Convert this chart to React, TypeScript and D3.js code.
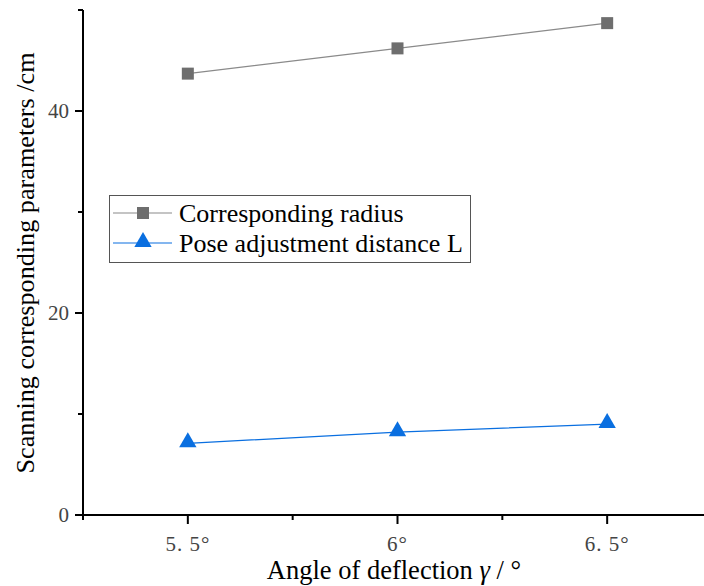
import React from "react";
import * as d3 from "d3";

const xValues = [5.5, 6, 6.5];
const radiusValues = [43.7, 46.2, 48.7];
const distanceValues = [7.1, 8.2, 9.0];
const xTickValues = [5.5, 6, 6.5];
const xTickLabels = ["5. 5°", "6°", "6. 5°"];
const xMinorTicks = [5.25, 5.75, 6.25, 6.75];
const yTickValues = [0, 20, 40];
const yMinorTicks = [10, 30, 50];
const seriesNames = ["Corresponding radius", "Pose adjustment distance L"];

const W = 704, H = 586;
const left = 83, top = 10, bottom = 515;

export default function App() {
  const x = d3.scaleLinear().domain([5.25, 6.75]).range([left, left + 629]);
  const y = d3.scaleLinear().domain([0, 50]).range([bottom, top]);
  const line = d3.line<number>().x((_, i) => x(xValues[i])).y((d) => y(d));
  const grey = "#6e6e6e";
  const greyLine = "#8a8a8a";
  const blue = "#0a6fe0";
  const serif = "'Liberation Serif', 'Times New Roman', serif";
  const tri = d3.symbol().type(d3.symbolTriangle).size(130)() as string;

  return (
    <svg width={W} height={H} style={{ position: "absolute", left: 0, top: 0, background: "#fff" }}>
      {/* axes */}
      <line x1={left} y1={top} x2={left} y2={bottom} stroke="#000" strokeWidth={2} />
      <line x1={left - 1} y1={bottom} x2={W} y2={bottom} stroke="#000" strokeWidth={2} />
      {yTickValues.map((v) => (
        <g key={"yt" + v}>
          <line x1={left - 8} x2={left} y1={y(v)} y2={y(v)} stroke="#000" strokeWidth={2} />
          <text x={left - 14} y={y(v)} dy="0.35em" textAnchor="end" fontFamily={serif} fontSize={21} fill="#444">{v}</text>
        </g>
      ))}
      {yMinorTicks.map((v) => (
        <line key={"ym" + v} x1={left - 5} x2={left} y1={y(v)} y2={y(v)} stroke="#000" strokeWidth={2} />
      ))}
      {xTickValues.map((v, i) => (
        <g key={"xt" + v}>
          <line x1={x(v)} x2={x(v)} y1={bottom} y2={bottom + 9} stroke="#000" strokeWidth={2} />
          <text x={x(v)} y={bottom + 36} textAnchor="middle" fontFamily={serif} fontSize={21} letterSpacing={1} fill="#444">{xTickLabels[i]}</text>
        </g>
      ))}
      {xMinorTicks.map((v) => (
        <line key={"xm" + v} x1={x(v)} x2={x(v)} y1={bottom} y2={bottom + 5} stroke="#000" strokeWidth={2} />
      ))}
      <text x={394} y={579} textAnchor="middle" fontFamily={serif} fontSize={26.5} fill="#000">
        Angle of deflection <tspan fontStyle="italic">γ</tspan> / °
      </text>
      <text transform={`translate(34,263) rotate(-90)`} textAnchor="middle" fontFamily={serif} fontSize={26.2} fill="#000">
        Scanning corresponding parameters /cm
      </text>

      {/* series */}
      <path d={line(radiusValues) as string} fill="none" stroke={greyLine} strokeWidth={1.2} />
      {radiusValues.map((v, i) => (
        <rect key={"r" + i} x={x(xValues[i]) - 6} y={y(v) - 6} width={12} height={12} fill={grey} />
      ))}
      <path d={line(distanceValues) as string} fill="none" stroke={blue} strokeWidth={1.2} />
      {distanceValues.map((v, i) => (
        <path key={"d" + i} d={tri} transform={`translate(${x(xValues[i])},${y(v) - 1})`} fill={blue} />
      ))}

      {/* legend */}
      <rect x={109.5} y={195.5} width={361} height={67} fill="#fff" stroke="#555" strokeWidth={1} />
      <line x1={113} x2={172} y1={213} y2={213} stroke={greyLine} strokeWidth={1.2} />
      <rect x={137} y={207} width={12} height={12} fill={grey} />
      <text x={179} y={213} dy="0.35em" fontFamily={serif} fontSize={26} fill="#000">{seriesNames[0]}</text>
      <line x1={113} x2={172} y1={243} y2={243} stroke={blue} strokeWidth={1.2} />
      <path d={tri} transform="translate(143,242)" fill={blue} />
      <text x={179} y={243} dy="0.35em" fontFamily={serif} fontSize={26} fill="#000">{seriesNames[1]}</text>
    </svg>
  );
}
